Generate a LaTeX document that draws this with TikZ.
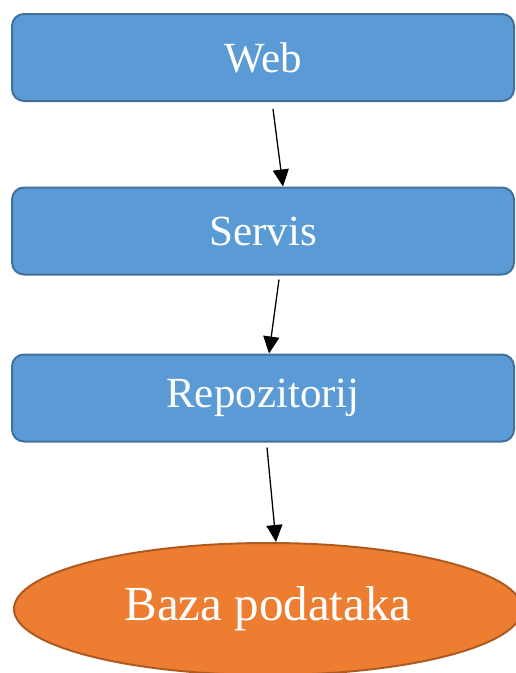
\documentclass[tikz,border=0pt]{standalone}
\usepackage{fontspec}
\setmainfont{Liberation Serif}
\usetikzlibrary{shapes.geometric,arrows.meta}
\definecolor{boxblue}{HTML}{5B9BD5}
\definecolor{boxline}{HTML}{41719C}
\definecolor{dborange}{HTML}{ED7D31}
\definecolor{dbline}{HTML}{AE5A21}
\tikzstyle{layer}=[rectangle,rounded corners=12pt,fill=boxblue,draw=boxline,line width=2pt,minimum width=502pt,minimum height=87pt,inner sep=0pt,text=white,font=\fontsize{43}{48}\selectfont]
\tikzstyle{store}=[ellipse,fill=dborange,draw=dbline,line width=2pt,minimum width=508pt,minimum height=132pt,inner sep=0pt,text=white,font=\fontsize{49}{54}\selectfont]
\tikzstyle{flow}=[-{Triangle[length=17pt,width=16pt]},line width=1.3pt]

\begin{document}
\begin{tikzpicture}[x=1pt,y=-1pt]
    \useasboundingbox (0,0) rectangle (515,673);
    \node[layer] (web) at (263,57.5) {Web};
    \node[layer] (servis) at (263,231) {Servis};
    \node[layer] (repo) at (263,398) {Repozitorij};
    \node[store] (baza) at (268,609) {Baza podataka};

    \draw[flow] ([xshift=10pt,yshift=-7pt]web.south) -- ([xshift=20pt]servis.north);
    \draw[flow] ([xshift=16pt,yshift=-4pt]servis.south) -- ([xshift=6pt]repo.north);
    \draw[flow] ([xshift=4pt,yshift=-5pt]repo.south) -- ([xshift=8pt]baza.north);
\end{tikzpicture}
\end{document}
